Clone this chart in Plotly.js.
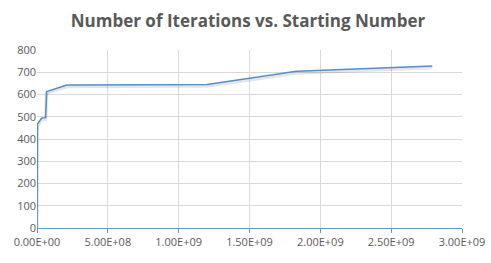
<!DOCTYPE html>
<html>
<head>
<meta charset="utf-8">
<script src="https://cdn.plot.ly/plotly-3.0.1.min.js"></script>
<style>html,body{margin:0;padding:0;background:#fff;}#chart{width:491px;height:263px;}</style>
</head>
<body>
<div id="chart"></div>
<script>
const startingNumbers = [0, 2e6, 3e6, 3.3e7, 6.1e7, 6.8e7, 2.1e8, 1.2e9, 1.83e9, 2.79e9];
const iterations = [0, 380, 467, 494, 496, 613, 643, 645, 704, 728];
const xTickVals = [0, 5e8, 1e9, 1.5e9, 2e9, 2.5e9, 3e9];
const xTickText = ['0.00E+00', '5.00E+08', '1.00E+09', '1.50E+09', '2.00E+09', '2.50E+09', '3.00E+09'];

const traces = [
  {x: startingNumbers, y: iterations, type: 'scatter', mode: 'lines',
   line: {color: 'rgba(0,0,0,0.10)', width: 3.5}, yaxis: 'y2', hoverinfo: 'skip', showlegend: false},
  {x: startingNumbers, y: iterations, type: 'scatter', mode: 'lines',
   line: {color: '#5B9BD5', width: 1.5}, showlegend: false}
];
const layout = {
  width: 491, height: 263,
  margin: {l: 37, r: 29, t: 50, b: 35},
  paper_bgcolor: '#fff', plot_bgcolor: '#fff',
  font: {family: 'Open Sans, sans-serif', size: 11, color: '#595959'},
  title: {text: '<b>Number of Iterations vs. Starting Number</b>', x: 0.505, xanchor: 'center', y: 0.92, yanchor: 'middle',
          font: {family: 'Open Sans, sans-serif', size: 17, color: '#595959'}},
  xaxis: {range: [0, 3e9], tickvals: xTickVals, ticktext: xTickText, showgrid: true, gridcolor: '#D9D9D9',
          showline: true, linecolor: '#5B9BD5', linewidth: 1, ticks: 'outside', ticklen: 4, tickcolor: '#5B9BD5',
          zeroline: false, tickfont: {size: 11, color: '#595959'}, fixedrange: true},
  yaxis: {range: [0, 800], dtick: 100, showgrid: true, gridcolor: '#D9D9D9', zeroline: false, showline: false,
          ticks: '', tickfont: {size: 11, color: '#595959'}, fixedrange: true},
  yaxis2: {range: [7, 807], overlaying: 'y', visible: false, fixedrange: true},
  showlegend: false
};
Plotly.newPlot('chart', traces, layout, {displayModeBar: false, staticPlot: true});
</script>
</body>
</html>
